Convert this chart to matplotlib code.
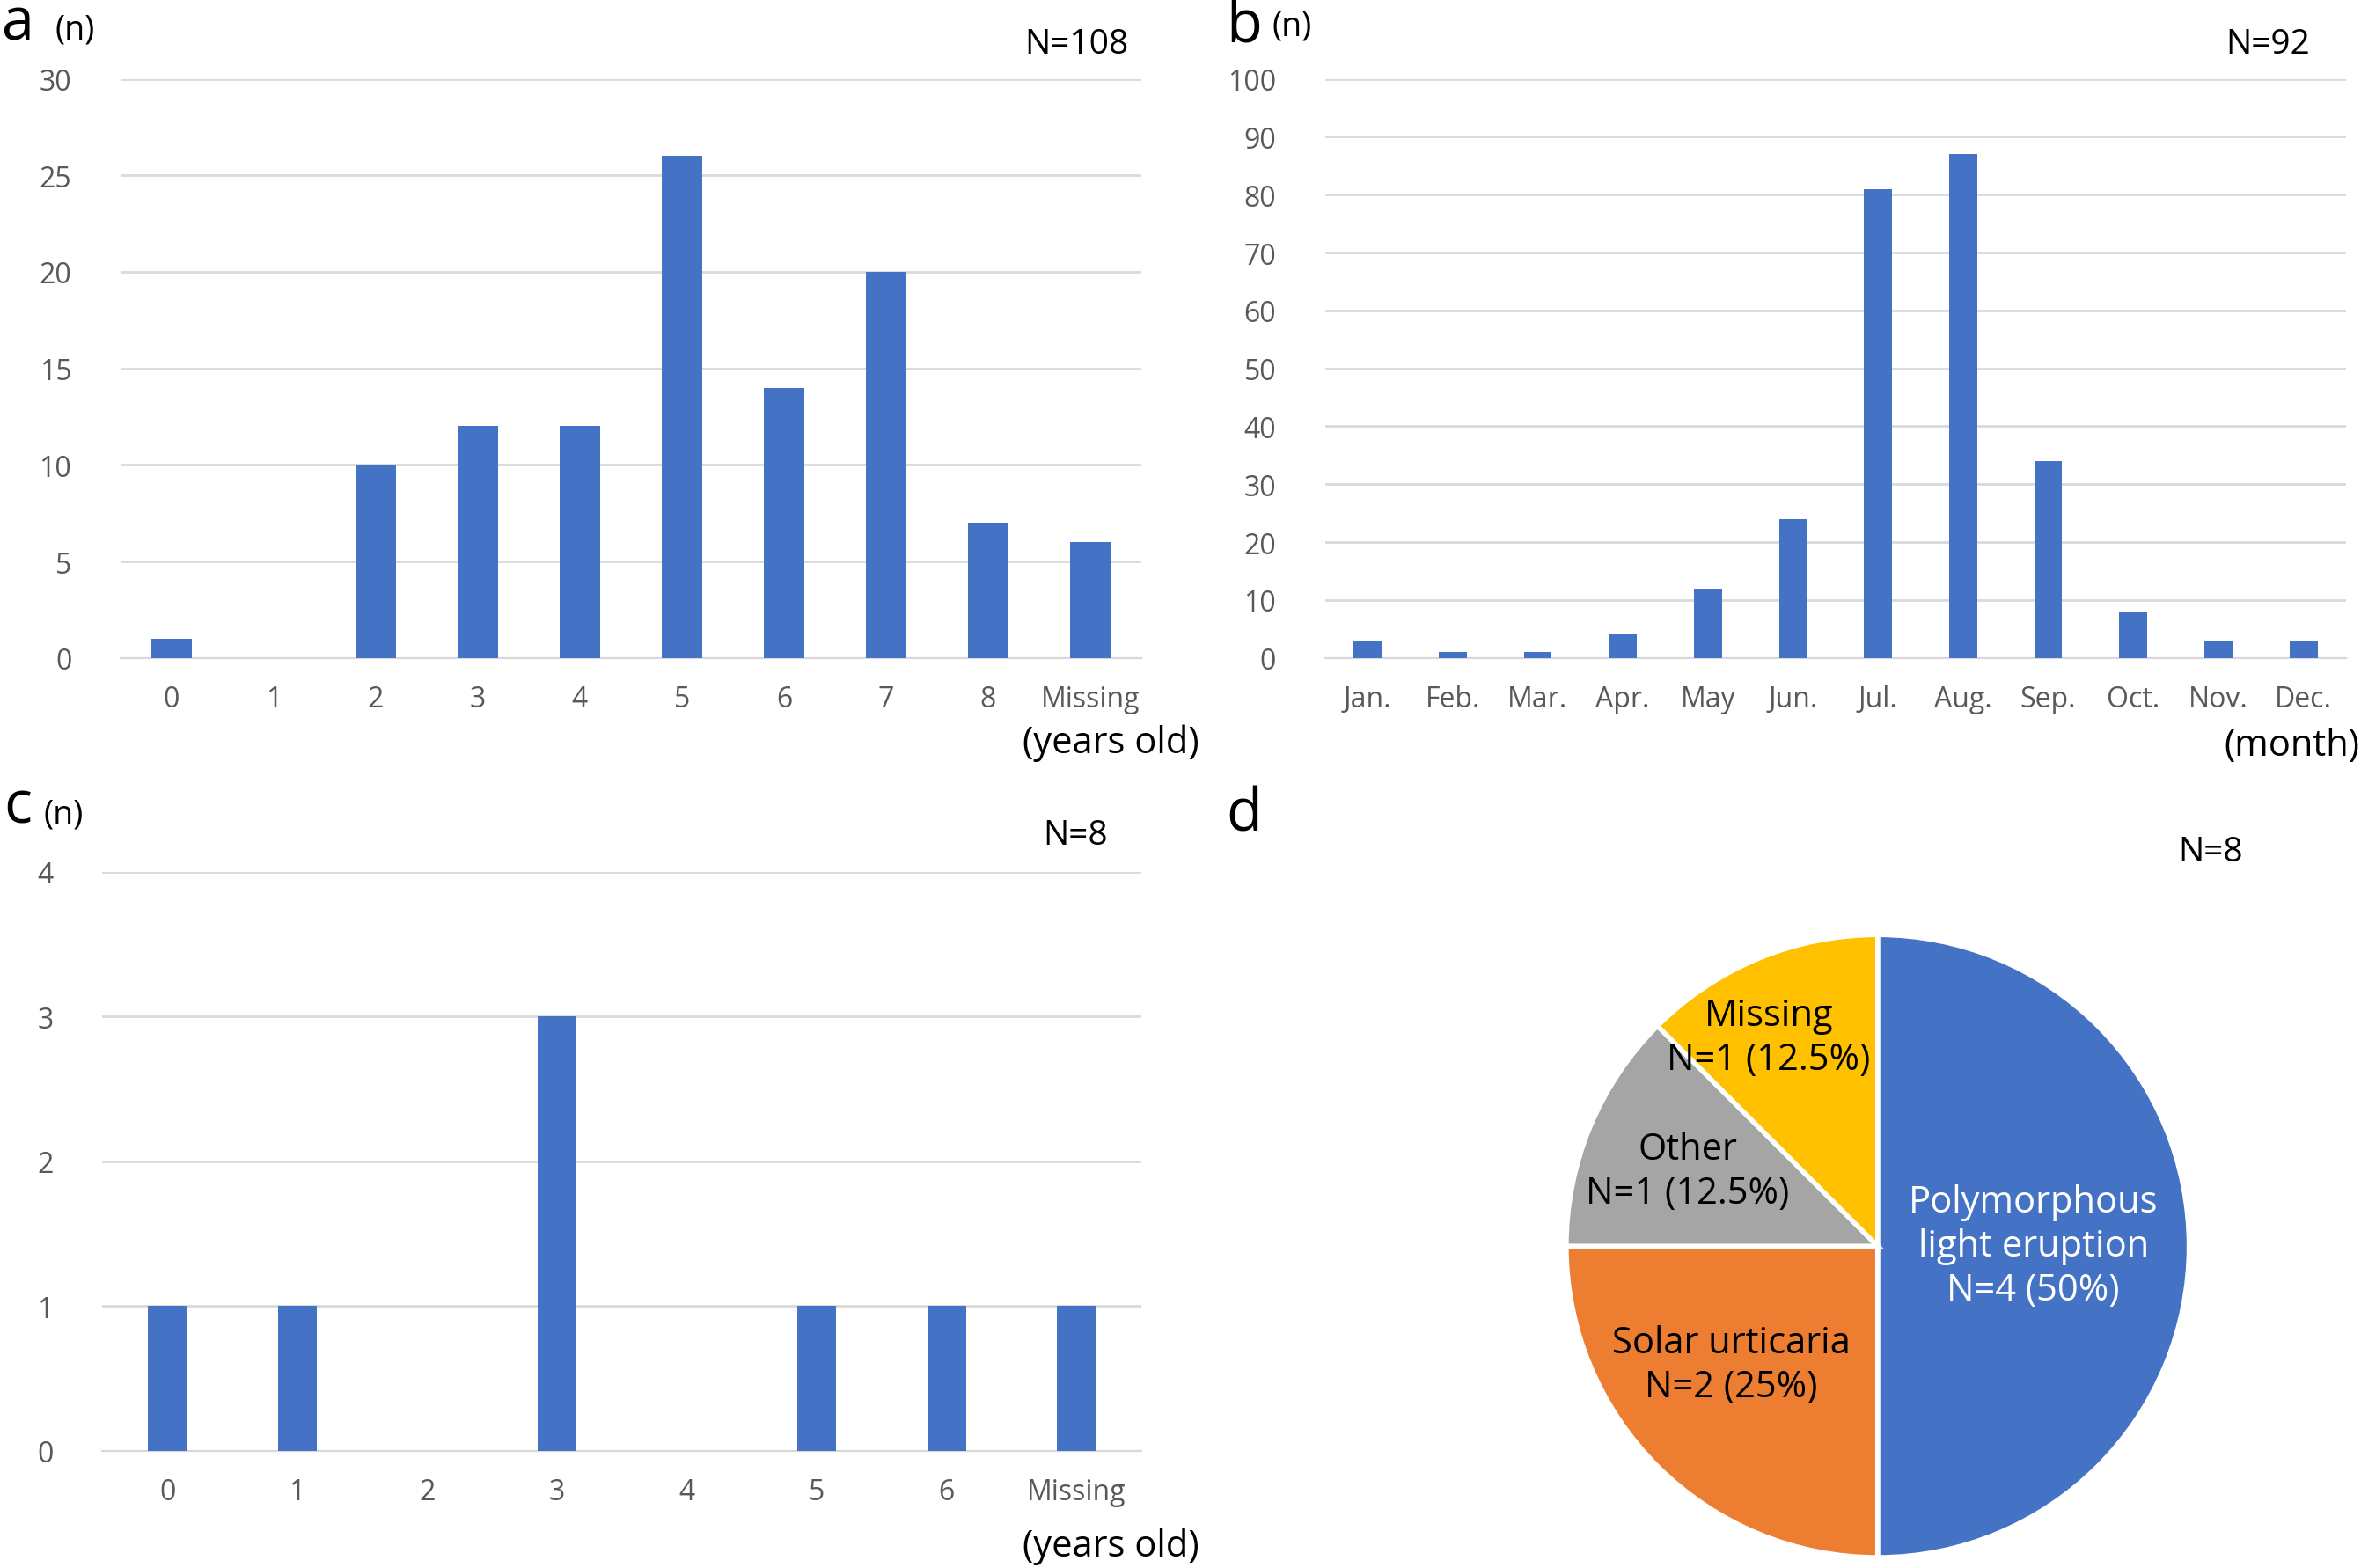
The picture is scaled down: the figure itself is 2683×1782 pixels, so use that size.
import matplotlib
matplotlib.use("Agg")
import matplotlib.pyplot as plt

plt.rcParams['font.family'] = ['Open Sans', 'DejaVu Sans']

BLUE = "#4472C4"
GRID = "#D9D9D9"
TICK = "#595959"

# ── DATA ──────────────────────────────────────────────────────────────────────
age_a_labels = ["0", "1", "2", "3", "4", "5", "6", "7", "8", "Missing"]
age_a_counts = [1, 0, 10, 12, 12, 26, 14, 20, 7, 6]

month_labels = ["Jan.", "Feb.", "Mar.", "Apr.", "May", "Jun.", "Jul.", "Aug.",
                "Sep.", "Oct.", "Nov.", "Dec."]
month_counts = [3, 1, 1, 4, 12, 24, 81, 87, 34, 8, 3, 3]

age_c_labels = ["0", "1", "2", "3", "4", "5", "6", "Missing"]
age_c_counts = [1, 1, 0, 3, 0, 1, 1, 1]

pie_labels = ["Polymorphous\nlight eruption\nN=4 (50%)", "Solar urticaria\nN=2 (25%)",
              "Other\nN=1 (12.5%)", "Missing\nN=1 (12.5%)"]
pie_values = [4, 2, 1, 1]
pie_colors = ["#4472C4", "#ED7D31", "#A5A5A5", "#FFC000"]

W, H = 1568, 1043
fig = plt.figure(figsize=(13.415, 8.915), dpi=200)


def px(x, y):
    return x / W, 1 - y / H


def bar_panel(rect, labels, counts, width, ymax, step):
    ax = fig.add_axes(rect)
    xs = range(len(labels))
    ax.bar(xs, counts, width=width, color=BLUE, zorder=3)
    ax.set_xlim(-0.5, len(labels) - 0.5)
    ax.set_ylim(0, ymax)
    ax.set_yticks(range(0, ymax + 1, step))
    ax.set_xticks(list(xs))
    ax.set_xticklabels(labels)
    ax.grid(axis="y", color=GRID, linewidth=1, zorder=0)
    for s in ["top", "right", "left"]:
        ax.spines[s].set_visible(False)
    ax.spines["bottom"].set_color(GRID)
    ax.tick_params(length=0, labelsize=11.5, labelcolor=TICK, pad=11)
    ax.tick_params(axis="y", pad=20)
    return ax


bar_panel([80 / W, 1 - 438 / H, 678 / W, 385 / H], age_a_labels, age_a_counts, 0.4, 30, 5)
bar_panel([880 / W, 1 - 438 / H, 678 / W, 385 / H], month_labels, month_counts, 0.33, 100, 10)
bar_panel([68 / W, 1 - 965 / H, 690 / W, 385 / H], age_c_labels, age_c_counts, 0.3, 4, 1)

# pie
r = 207
axp = fig.add_axes([(1247 - r) / W, 1 - (829 + r) / H, 2 * r / W, 2 * r / H])
axp.pie(pie_values, colors=pie_colors, startangle=90, counterclock=False,
        wedgeprops=dict(edgecolor="white", linewidth=2))
axp.set_xlim(-1, 1)
axp.set_ylim(-1, 1)
pie_pos = [(0.50, 0.0), (-0.47, -0.38), (-0.61, 0.24), (-0.35, 0.67)]
pie_text_colors = ["white", "black", "black", "black"]
for lab, (x, y), c in zip(pie_labels, pie_pos, pie_text_colors):
    axp.text(x, y, lab, ha="center", va="center", fontsize=15, color=c,
             linespacing=1.25)

# panel letters, units, N labels
for letter, x, y in [("a", 12, 16), ("b", 826, 18), ("c", 12, 537), ("d", 826, 542)]:
    fig.text(*px(x, y), letter, fontsize=24, ha="center", va="center")
for x, y in [(50, 20), (858, 18), (42, 542)]:
    fig.text(*px(x, y), "(n)", fontsize=13.5, ha="center", va="center")
for txt, x, y in [("N=108", 715, 30), ("N=92", 1506, 30), ("N=8", 714, 556), ("N=8", 1468, 567)]:
    fig.text(*px(x, y), txt, fontsize=14, ha="center", va="center")
for txt, x, y in [("(years old)", 738, 494), ("(month)", 1522, 496), ("(years old)", 738, 1028)]:
    fig.text(*px(x, y), txt, fontsize=15, ha="center", va="center")

fig.savefig("out.png", dpi=200)
